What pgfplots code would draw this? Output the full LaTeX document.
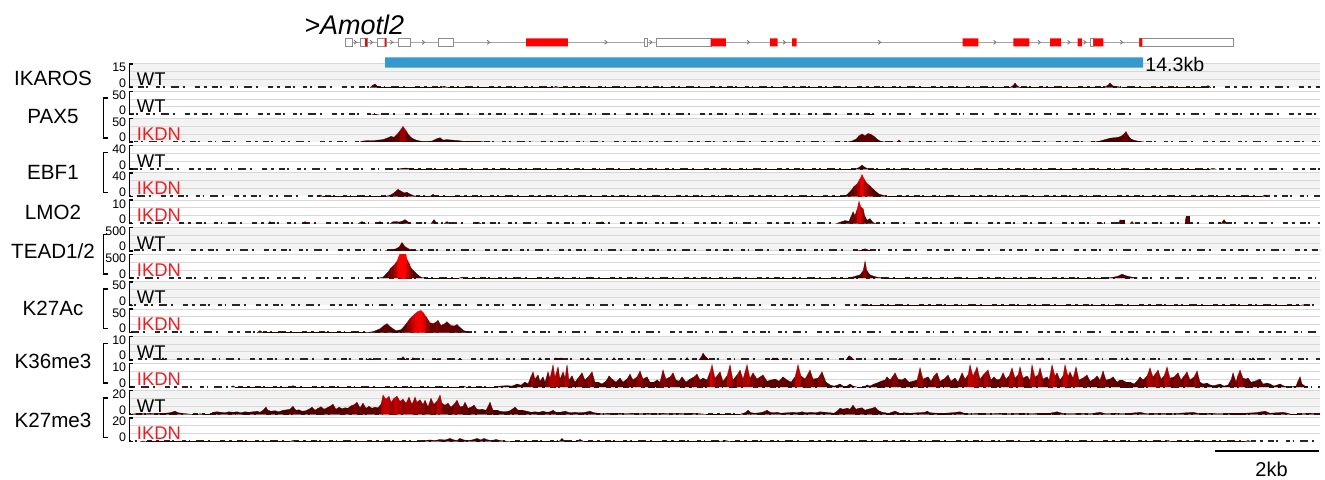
\documentclass[border=0pt]{standalone}
\usepackage{pgfplots}
\usepackage{pgfplotstable}
\pgfplotsset{compat=1.18}
\usepackage{fontspec}
\setmainfont{Liberation Sans}
\definecolor{bgg}{RGB}{243,243,243}
\definecolor{gridc}{RGB}{216,216,216}
\definecolor{ikred}{RGB}{235,30,35}
\definecolor{blueb}{RGB}{54,153,206}
\definecolor{exred}{RGB}{255,0,0}
\newcommand\tickfont{\fontsize{6.2}{7}\selectfont}
\newcommand\lblfont{\fontsize{9.2}{10}\selectfont}
\newcommand\grpfont{\fontsize{10.3}{12}\selectfont}
\pgfdeclareplotmark{chev}{\pgfpathmoveto{\pgfqpoint{-0.7pt}{1pt}}\pgfpathlineto{\pgfqpoint{0.5pt}{0pt}}\pgfpathlineto{\pgfqpoint{-0.7pt}{-1pt}}\pgfusepathqstroke}
\pgfplotsset{
  trk/.style={scale only axis, width=595pt, height=11.75pt, anchor=south west,
    xmin=130, xmax=1320, ymin=0,
    axis line style={draw=none}, xtick=\empty, ytick=\empty,
    colormap={trk}{rgb255(0cm)=(45,0,0); rgb255(8cm)=(105,0,0); rgb255(13cm)=(175,0,0); rgb255(17cm)=(235,0,0); rgb255(20cm)=(255,0,0)},
    point meta min=0},
  sig/.style={surf, shader=faceted, faceted color=mapped color, line width=0.1pt, mesh/rows=2, point meta=explicit},
  basedash/.style={draw=black!85, line width=1.4pt, dash pattern=on 1.5pt off 2.5pt on 3pt off 1pt on 1pt off 4pt on 2pt off 1.5pt on 0.8pt off 3pt on 4pt off 2pt on 1pt off 5pt on 2.5pt off 2pt}
}
% ---------------- data: x = position (px along the locus), y = signal ----------------
\pgfplotstableread[row sep=\\]{x y\\ 370 0\\ 373 1.5\\ 375 2.2\\ 377 1\\ 380 0\\ 440 0\\ 444 0.8\\ 448 0\\ 553 0\\ 556 0.7\\ 559 0\\ 1010 0\\ 1013 1.2\\ 1015 2.8\\ 1017 1.2\\ 1020 0\\ 1040 0\\ 1042 0.8\\ 1044 0\\ 1058 0\\ 1060 0.8\\ 1062 0\\ 1104 0\\ 1108 1.5\\ 1110 2.8\\ 1113 1\\ 1118 0.5\\ 1122 0\\ 1205 0\\ 1208 1.2\\ 1211 0\\}\tIK
\pgfplotstableread[row sep=\\]{x y\\ 372 0\\ 375 1.5\\ 378 0\\ 868 0\\ 871 1.5\\ 874 0\\}\tPW
\pgfplotstableread[row sep=\\]{x y\\ 360 0\\ 363 2\\ 368 3\\ 373 2.5\\ 378 4\\ 383 5\\ 388 9\\ 391 12\\ 394 10\\ 397 16\\ 400 24\\ 403 33\\ 406 24\\ 409 14\\ 412 8\\ 416 4\\ 420 2\\ 425 1\\ 432 2\\ 437 7\\ 440 9\\ 443 4\\ 447 5\\ 452 4\\ 458 3\\ 465 1\\ 480 1\\ 484 0\\ 848 0\\ 852 2\\ 856 6\\ 859 13\\ 862 17\\ 865 13\\ 868 18\\ 871 16\\ 874 12\\ 877 6\\ 880 2\\ 884 0\\ 897 0\\ 899 4\\ 901 0\\ 1095 0\\ 1100 2\\ 1105 5\\ 1110 8\\ 1114 9\\ 1118 10\\ 1121 12\\ 1124 17\\ 1126 22\\ 1128 14\\ 1131 6\\ 1135 3\\ 1140 1\\ 1144 0\\}\tPK
\pgfplotstableread[row sep=\\]{x y\\ 398 0\\ 402 1.5\\ 406 2\\ 410 1\\ 414 0\\ 855 0\\ 859 3\\ 862 7\\ 865 3\\ 869 0\\ 1210 0\\ 1213 1.5\\ 1216 0\\}\tEW
\pgfplotstableread[row sep=\\]{x y\\ 317 0\\ 320 2.5\\ 323 0\\ 385 0\\ 390 2\\ 394 6\\ 398 12\\ 401 9\\ 404 6\\ 407 7\\ 410 4\\ 414 1\\ 418 0\\ 430 0\\ 433 3.5\\ 436 0\\ 843 0\\ 847 3\\ 851 10\\ 854 17\\ 857 21\\ 860 30\\ 862 37\\ 864 30\\ 867 22\\ 870 18\\ 873 13\\ 876 8\\ 879 4\\ 883 2\\ 888 0\\ 1262 0\\ 1265 2.5\\ 1268 0\\}\tEK
\pgfplotstableread[row sep=\\]{x y\\ 148 0\\ 150 0.8\\ 152 0\\ 268 0\\ 270 0.9\\ 272 0\\ 303 0\\ 305 0.9\\ 307 0\\ 358 0\\ 362 0.9\\ 366 0\\ 377 0\\ 380 0.9\\ 383 0\\ 390 0\\ 393 0.8\\ 396 0.9\\ 399 0.7\\ 402 1\\ 405 1.7\\ 408 0.8\\ 411 0\\ 431 0\\ 434 1.7\\ 437 0\\ 444 0\\ 447 0.9\\ 450 0\\ 475 0\\ 478 0.7\\ 481 0\\ 599 0\\ 602 0.8\\ 605 0\\ 836 0\\ 840 0.6\\ 845 1.3\\ 849 1\\ 851 3\\ 853 5\\ 855 3.5\\ 857 6\\ 859 9.4\\ 861 7\\ 863 6.4\\ 865 3\\ 867 1.5\\ 870 2.1\\ 873 0.5\\ 876 0\\ 1099 0\\ 1101 0.5\\ 1103 0\\ 1119 0\\ 1120 1.7\\ 1124 1.7\\ 1125 0\\ 1130 0\\ 1132 0.9\\ 1134 0\\ 1185 0\\ 1186 3\\ 1189 3\\ 1190 0\\ 1221 0\\ 1224 1.7\\ 1227 0\\}\tLM
\pgfplotstableread[row sep=\\]{x y\\ 385 0\\ 390 10\\ 395 35\\ 399 80\\ 402 177\\ 405 90\\ 409 40\\ 413 10\\ 418 0\\ 858 0\\ 862 20\\ 865 45\\ 868 20\\ 872 0\\}\tTW
\pgfplotstableread[row sep=\\]{x y\\ 378 0\\ 383 20\\ 388 128\\ 391 220\\ 394 277\\ 397 360\\ 399 470\\ 401 600\\ 405 600\\ 407 400\\ 409 320\\ 411 215\\ 413 170\\ 415 128\\ 418 64\\ 421 20\\ 425 0\\ 459 0\\ 462 20\\ 465 0\\ 848 0\\ 852 20\\ 856 45\\ 860 70\\ 863 150\\ 865 355\\ 867 150\\ 870 70\\ 875 30\\ 880 10\\ 884 0\\ 1105 0\\ 1112 15\\ 1118 40\\ 1122 85\\ 1126 50\\ 1132 20\\ 1138 0\\}\tTK
\pgfplotstableread[row sep=\\]{x y\\ 860 0\\ 863 2\\ 866 0\\ 1300 0\\ 1305 1.5\\ 1310 0\\}\tAW
\pgfplotstableread[row sep=\\]{x y\\ 257 0\\ 260 4\\ 263 0\\ 366 0\\ 373 2\\ 380 8\\ 384 15\\ 387 19\\ 391 11\\ 396 4\\ 401 6\\ 404 13\\ 407 21\\ 410 30\\ 412 34\\ 415 40\\ 418 45\\ 421 47\\ 423 43\\ 426 34\\ 430 21\\ 433 19\\ 436 22\\ 438 26\\ 441 15\\ 444 18\\ 447 23\\ 451 15\\ 454 14\\ 457 17\\ 461 9\\ 464 4\\ 467 2\\ 470 0\\}\tAK
\pgfplotstableread[row sep=\\]{x y\\ 161 0\\ 163 0.9\\ 165 0\\ 366 0\\ 370 0.6\\ 374 0\\ 400 0\\ 403 1.3\\ 406 0\\ 411 0\\ 413 0.9\\ 415 0\\ 436 0\\ 438 0.6\\ 440 0\\ 458 0\\ 460 0.6\\ 462 0\\ 538 0\\ 540 0.9\\ 542 0\\ 554 0\\ 556 0.9\\ 561 0.9\\ 563 0\\ 586 0\\ 588 0.9\\ 590 0\\ 612 0\\ 614 0.9\\ 616 0\\ 685 0\\ 687 0.9\\ 689 0\\ 699 0\\ 701 1\\ 703 2.8\\ 706 1.2\\ 709 0\\ 771 0\\ 773 0.9\\ 777 0.9\\ 779 0\\ 846 0\\ 849 1.7\\ 851 1.2\\ 854 0\\ 898 0\\ 900 0.6\\ 902 0\\ 1040 0\\ 1042 0.9\\ 1044 0\\ 1125 0\\ 1127 0.9\\ 1129 0\\ 1251 0\\ 1253 0.9\\ 1255 0\\}\tSW
\pgfplotstableread[row sep=\\]{x y\\ 231 0\\ 233 0.5\\ 235 0\\ 291 0\\ 293 0.6\\ 295 0\\ 460 0\\ 463 0.4\\ 466 0\\ 495 0\\ 500 0.4\\ 507 0.6\\ 512 0.4\\ 517 1.3\\ 521 0.8\\ 525 2.1\\ 528 1.3\\ 531 4.5\\ 533 6.4\\ 535 3.4\\ 538 5.1\\ 540 2.5\\ 543 4.3\\ 545 2.1\\ 548 6.4\\ 550 3.8\\ 553 9.4\\ 555 4.3\\ 558 8.5\\ 560 3.4\\ 563 6.4\\ 565 4\\ 567 9.4\\ 569 3\\ 572 4.7\\ 575 2.1\\ 578 3.8\\ 582 6\\ 585 3\\ 588 4.3\\ 592 6.4\\ 595 2.1\\ 598 2.1\\ 602 1.3\\ 606 2.5\\ 609 4.7\\ 612 3.4\\ 616 2.1\\ 620 3.8\\ 623 2.1\\ 627 3.4\\ 630 5.5\\ 633 3\\ 637 4.3\\ 640 6.8\\ 643 3.4\\ 647 4.3\\ 650 2.1\\ 654 2.1\\ 657 3\\ 660 2.1\\ 663 7.2\\ 666 3.4\\ 670 4.3\\ 673 6\\ 676 3\\ 679 2.5\\ 682 4.3\\ 686 2.1\\ 690 3.4\\ 694 4.3\\ 697 5.5\\ 700 3\\ 703 3.8\\ 707 3\\ 710 6.4\\ 712 9.4\\ 715 3.8\\ 720 6.4\\ 723 2.5\\ 727 4.7\\ 730 9.4\\ 733 3\\ 737 5.1\\ 740 7.2\\ 743 3.4\\ 747 9.4\\ 750 3.8\\ 753 6\\ 757 3.4\\ 760 4.3\\ 763 5.1\\ 767 2.5\\ 771 3\\ 775 3.4\\ 779 2.5\\ 783 4.3\\ 787 3\\ 791 2.1\\ 795 4.3\\ 798 9.4\\ 801 4.7\\ 805 3.4\\ 810 7.2\\ 813 3.4\\ 818 3.8\\ 822 6.4\\ 826 2.1\\ 830 0.9\\ 834 0.4\\ 838 0.9\\ 840 1.3\\ 843 0.4\\ 847 0.4\\ 850 1.3\\ 853 0.4\\ 857 0\\ 864 0\\ 867 0.9\\ 870 0.4\\ 874 1.3\\ 877 1.7\\ 881 2.5\\ 885 3\\ 887 4.3\\ 890 3\\ 893 4.7\\ 895 6\\ 898 3.4\\ 902 3\\ 905 3.8\\ 909 2.1\\ 913 2.5\\ 917 3\\ 920 8.1\\ 923 3.4\\ 928 4.3\\ 931 2.5\\ 934 4.7\\ 937 6\\ 940 2.5\\ 944 3.4\\ 948 5.1\\ 951 2.5\\ 955 3.8\\ 958 2.1\\ 962 6\\ 965 3.4\\ 968 5.1\\ 970 9.4\\ 973 4.7\\ 977 8.5\\ 980 3.4\\ 984 5.5\\ 988 7.2\\ 991 3\\ 994 4.3\\ 997 3\\ 1000 3.4\\ 1003 6\\ 1006 3.4\\ 1009 4.7\\ 1012 8.1\\ 1015 3.8\\ 1018 5.1\\ 1020 8.5\\ 1023 3.8\\ 1027 4.7\\ 1030 3\\ 1032 9.4\\ 1035 4.3\\ 1038 5.1\\ 1040 8.1\\ 1043 3.4\\ 1047 4.3\\ 1049 3\\ 1052 9.4\\ 1055 4.7\\ 1057 6\\ 1060 3\\ 1063 4.7\\ 1065 9.4\\ 1068 4.7\\ 1070 6.4\\ 1073 3.8\\ 1076 8.5\\ 1079 3\\ 1083 3.8\\ 1087 5.1\\ 1090 2.5\\ 1094 3.4\\ 1097 4.7\\ 1100 3\\ 1103 6.8\\ 1106 3\\ 1110 3.4\\ 1113 4.3\\ 1117 2.1\\ 1120 3\\ 1122 3\\ 1126 2.1\\ 1130 2.1\\ 1134 1.3\\ 1137 2.5\\ 1140 4.3\\ 1143 3\\ 1147 4.7\\ 1150 8.1\\ 1153 4.3\\ 1156 6\\ 1158 7.2\\ 1161 3.4\\ 1164 4.7\\ 1167 8.5\\ 1170 3.8\\ 1174 4.3\\ 1178 6\\ 1181 3\\ 1184 4.7\\ 1187 6.4\\ 1190 3\\ 1194 4.3\\ 1197 6.8\\ 1200 2.1\\ 1203 1.3\\ 1207 1.7\\ 1210 0.9\\ 1214 0.6\\ 1220 1.3\\ 1224 0.4\\ 1228 0.9\\ 1231 3\\ 1233 6\\ 1236 2.1\\ 1238 5.1\\ 1240 7.2\\ 1243 3.8\\ 1246 3.4\\ 1248 3.8\\ 1251 2.1\\ 1255 2.5\\ 1260 3.4\\ 1263 1.3\\ 1267 1.7\\ 1270 1.3\\ 1274 0.4\\ 1280 1.3\\ 1284 0.4\\ 1290 0\\ 1296 0.4\\ 1298 2.5\\ 1300 4.3\\ 1302 1.3\\ 1305 0.4\\ 1308 0\\}\tSK
\pgfplotstableread[row sep=\\]{x y\\ 130 0\\ 135 0.4\\ 140 0.9\\ 145 0.4\\ 150 0.9\\ 155 0.4\\ 160 0.9\\ 165 0.9\\ 170 1.3\\ 175 2.6\\ 178 1.3\\ 182 0.9\\ 186 0.4\\ 192 0\\ 198 0\\ 200 0.4\\ 205 0\\ 210 0\\ 213 1.7\\ 217 2.1\\ 221 1.7\\ 225 1.3\\ 229 2.1\\ 233 1.7\\ 237 2.1\\ 241 1.3\\ 245 2.1\\ 249 1.7\\ 253 2.1\\ 257 2.6\\ 260 1.7\\ 263 3.4\\ 266 6\\ 268 3.4\\ 271 2.6\\ 275 3\\ 279 2.1\\ 283 3.4\\ 287 3.8\\ 290 4.3\\ 293 6.8\\ 296 3.4\\ 299 3.8\\ 302 2.6\\ 306 3\\ 309 4.3\\ 312 6\\ 315 3.4\\ 318 5.1\\ 321 6.4\\ 324 4.3\\ 327 5.5\\ 330 6.8\\ 333 8.5\\ 336 4.3\\ 339 6\\ 342 4.7\\ 345 5.5\\ 348 5.1\\ 351 7.2\\ 354 8.1\\ 357 10.2\\ 360 5.5\\ 363 9.4\\ 366 5.1\\ 369 6.8\\ 372 5.1\\ 375 6\\ 378 5.5\\ 381 8.5\\ 383 16.2\\ 386 12.8\\ 389 15.3\\ 391 10.2\\ 394 13.6\\ 397 15.3\\ 400 11.1\\ 403 12.8\\ 406 9.4\\ 409 14.5\\ 412 8.5\\ 415 14.5\\ 417 10.2\\ 420 12.3\\ 423 8.5\\ 425 11.9\\ 428 6.4\\ 431 13.6\\ 434 8.5\\ 437 11.1\\ 440 16.2\\ 442 9.4\\ 445 7.7\\ 448 9.4\\ 451 6\\ 454 8.5\\ 457 11.9\\ 460 6.4\\ 463 6.8\\ 465 10.2\\ 468 5.1\\ 471 6\\ 474 7.7\\ 477 4.3\\ 480 3.8\\ 482 4.3\\ 486 3.4\\ 490 10.2\\ 493 3.4\\ 497 3.4\\ 500 2.6\\ 505 2.1\\ 510 3\\ 515 6\\ 518 3.4\\ 522 3.4\\ 527 2.6\\ 531 1.7\\ 535 2.1\\ 539 1.7\\ 543 2.6\\ 547 1.7\\ 550 2.1\\ 553 3.4\\ 556 1.7\\ 560 1.7\\ 565 2.6\\ 570 1.3\\ 575 1.7\\ 580 1.3\\ 585 1.7\\ 590 2.6\\ 594 1.3\\ 598 0.9\\ 603 0.4\\ 608 0.9\\ 613 0.4\\ 620 0.9\\ 626 0.4\\ 632 0.9\\ 640 0.4\\ 648 0.9\\ 655 0.4\\ 663 0.9\\ 670 0.4\\ 678 0.9\\ 685 0.4\\ 692 0.9\\ 700 0.4\\ 706 0\\ 740 0\\ 745 1.3\\ 748 3.4\\ 751 1.3\\ 755 0.9\\ 760 1.3\\ 764 2.1\\ 767 3.4\\ 770 1.7\\ 774 1.3\\ 777 1.7\\ 781 0.9\\ 787 1.3\\ 793 1.7\\ 797 1.3\\ 802 2.1\\ 806 1.3\\ 811 1.7\\ 816 1.3\\ 820 2.1\\ 825 1.7\\ 830 1.3\\ 834 0.9\\ 837 2.6\\ 840 5.1\\ 843 4.3\\ 847 5.1\\ 850 4.3\\ 853 7.7\\ 856 4.3\\ 859 5.1\\ 862 5.5\\ 865 3.4\\ 868 4.3\\ 872 5.1\\ 875 6\\ 878 3.4\\ 882 1.7\\ 886 1.3\\ 890 1.3\\ 895 2.6\\ 899 1.3\\ 903 1.3\\ 910 0.9\\ 918 1.3\\ 925 1.7\\ 927 2.6\\ 930 1.3\\ 937 0.9\\ 945 0.9\\ 952 1.3\\ 960 2.1\\ 964 0.9\\ 970 0.4\\ 980 0.9\\ 990 0.4\\ 1000 0.9\\ 1010 0.4\\ 1020 0.9\\ 1030 0.4\\ 1040 0.9\\ 1050 0.9\\ 1057 2.1\\ 1062 0.9\\ 1070 0.4\\ 1080 0.9\\ 1090 0.4\\ 1100 1.7\\ 1106 0.4\\ 1115 0.9\\ 1125 0.4\\ 1140 1.7\\ 1147 0.4\\ 1160 0.9\\ 1170 0.4\\ 1180 0.9\\ 1193 1.7\\ 1200 0.4\\ 1210 0.9\\ 1220 0.4\\ 1230 0.9\\ 1245 0.9\\ 1255 1.3\\ 1265 2.6\\ 1270 0.9\\ 1283 1.7\\ 1290 0.4\\ 1300 0.4\\ 1310 0.9\\ 1320 0.4\\}\tMW
\pgfplotstableread[row sep=\\]{x y\\ 140 0\\ 143 0.4\\ 146 0\\ 290 0\\ 293 0.9\\ 296 0\\ 420 0\\ 425 0.9\\ 430 1.3\\ 435 0.9\\ 440 1.7\\ 445 1.3\\ 450 2.6\\ 454 1.3\\ 457 0.9\\ 460 2.6\\ 464 1.3\\ 468 0.9\\ 472 1.3\\ 477 2.6\\ 481 1.3\\ 484 2.6\\ 488 1.3\\ 492 0.9\\ 496 1.7\\ 500 0.9\\ 505 0.4\\ 510 0\\ 559 0\\ 562 2.6\\ 565 0\\ 576 0\\ 580 1.7\\ 584 0\\ 720 0\\ 725 0.9\\ 730 0\\ 1165 0\\ 1168 0.9\\ 1171 0\\ 1245 0\\ 1248 0.9\\ 1251 0\\}\tMK
% doubled tables (baseline row + top row for the filled, height-coloured patches)
\newcommand{\prep}[3]{\pgfplotstablegetrowsof{#1}\xdef#3{\pgfplotsretval}\pgfplotstablevertcat{#2}{#1}\pgfplotstablevertcat{#2}{#1}}
\prep{\tIK}{\sIK}{\nIK}\prep{\tPW}{\sPW}{\nPW}\prep{\tPK}{\sPK}{\nPK}\prep{\tEW}{\sEW}{\nEW}
\prep{\tEK}{\sEK}{\nEK}\prep{\tLM}{\sLM}{\nLM}\prep{\tTW}{\sTW}{\nTW}\prep{\tTK}{\sTK}{\nTK}
\prep{\tAW}{\sAW}{\nAW}\prep{\tAK}{\sAK}{\nAK}\prep{\tSW}{\sSW}{\nSW}\prep{\tSK}{\sSK}{\nSK}
\prep{\tMW}{\sMW}{\nMW}\prep{\tMK}{\sMK}{\nMK}
\newcommand{\trk}[6]{%
\begin{axis}[trk, at={(65pt,#1pt)}, ymax=#2, point meta max=#2, axis background/.style={fill=#3}]
\draw[gridc, line width=0.5pt] (rel axis cs:0,1) -- (rel axis cs:1,1);
\draw[gridc, line width=0.5pt] (rel axis cs:0,0.6667) -- (rel axis cs:1,0.6667);
\draw[gridc, line width=0.5pt] (rel axis cs:0,0.3333) -- (rel axis cs:1,0.3333);
\addplot[basedash, dash phase=#6] coordinates {(130,0) (1320,0)};
\addplot[sig] table[x=x, y expr={(\coordindex>#5-0.5)*\thisrow{y}}, meta=y] {#4};
\end{axis}}
\newcommand{\deco}[7]{%
\addplot[black, line width=0.7pt] coordinates {(132.5,#1) (129.5,#1) (129.5,#2) (132.5,#2)};
\node[anchor=base east, inner sep=0pt, font=\tickfont] at (axis cs:126.5,#3) {#5};
\node[anchor=base east, inner sep=0pt, font=\tickfont] at (axis cs:126.5,#2) {0};
\node[anchor=base west, inner sep=0pt, font=\lblfont, text=#7] at (axis cs:136.5,#4) {#6};}
\newcommand{\grp}[2]{\addplot[black, line width=0.75pt] coordinates {(108,#1) (103.5,#1) (103.5,#2) (108,#2)};}
\newcommand{\wex}[2]{\addplot[draw=black!45, fill=white, line width=0.4pt] coordinates {(#1,38.3) (#2,38.3) (#2,46.3) (#1,46.3) (#1,38.3)};}
\newcommand{\rex}[2]{\addplot[draw=none, fill=exred] coordinates {(#1,38.3) (#2,38.3) (#2,46.3) (#1,46.3) (#1,38.3)};}
\begin{document}
\begin{tikzpicture}
\useasboundingbox (0,0) rectangle (662.5pt,240pt);
\trk{196.25}{15}{bgg}{\sIK}{\nIK}{0pt}
\trk{182.635}{50}{white}{\sPW}{\nPW}{5pt}
\trk{169.02}{50}{bgg}{\sPK}{\nPK}{11pt}
\trk{155.405}{40}{white}{\sEW}{\nEW}{3pt}
\trk{141.79}{40}{bgg}{\sEK}{\nEK}{17pt}
\trk{128.175}{10}{white}{\sLM}{\nLM}{8pt}
\trk{114.56}{500}{bgg}{\sTW}{\nTW}{2pt}
\trk{100.945}{500}{white}{\sTK}{\nTK}{13pt}
\trk{87.33}{50}{bgg}{\sAW}{\nAW}{6pt}
\trk{73.715}{50}{white}{\sAK}{\nAK}{20pt}
\trk{60.1}{10}{bgg}{\sSW}{\nSW}{9pt}
\trk{46.485}{10}{white}{\sSK}{\nSK}{15pt}
\trk{32.87}{20}{bgg}{\sMW}{\nMW}{1pt}
\trk{19.255}{20}{white}{\sMK}{\nMK}{24pt}
\begin{axis}[at={(0pt,0pt)}, anchor=south west, scale only axis, width=662.5pt, height=240pt,
  xmin=0, xmax=1325, ymin=0, ymax=480, y dir=reverse, hide axis, clip=false]
% gene model
\addplot[black!35, line width=0.5pt] coordinates {(345,42.3) (1233,42.3)};
\addplot[only marks, mark=chev, draw=black!55, mark options={line width=0.4pt}] coordinates {(355.5,42.3) (371.6,42.3) (391.8,42.3) (423.6,42.3) (488.6,42.3) (606.1,42.3) (650.9,42.3) (748.5,42.3) (784.4,42.3) (879.7,42.3) (995,42.3) (1039.3,42.3) (1069,42.3) (1085,42.3) (1121.7,42.3)};
\wex{345.2}{352.4}
\wex{360.5}{367}\rex{365}{367}
\wex{377.7}{386.1}\rex{384.6}{385.8}
\wex{398.3}{410.2}
\wex{438.5}{453.4}
\rex{526.2}{567.9}
\wex{644.4}{647.5}
\wex{655.9}{711}\rex{710.6}{725.9}
\rex{769.9}{777.6}
\rex{792.1}{796.7}
\rex{962.7}{978.3}
\rex{1013.3}{1029.3}
\rex{1050}{1061}
\rex{1077.7}{1082}
\wex{1090.7}{1093.5}\rex{1093.3}{1103.3}
\wex{1139.3}{1233.3}\rex{1139.3}{1142.3}
\node[anchor=west, inner sep=0pt, font=\fontsize{13.5}{15}\selectfont\itshape] at (axis cs:304,25) {>Amotl2};
% region bar
\addplot[fill=blueb, draw=none] coordinates {(385,57.3) (1143,57.3) (1143,67.7) (385,67.7) (385,57.3)};
\node[anchor=west, inner sep=0pt, font=\fontsize{9.8}{11}\selectfont] at (axis cs:1145,64.5) {14.3kb};
% track decorations
\deco{64}{87.5}{72}{85.8}{15}{WT}{black}
\deco{91.23}{114.73}{99.23}{113}{50}{WT}{black}
\deco{118.46}{141.96}{126.46}{140.2}{50}{IKDN}{ikred}
\deco{145.69}{169.19}{153.69}{167.5}{40}{WT}{black}
\deco{172.92}{196.42}{180.92}{194.7}{40}{IKDN}{ikred}
\deco{200.15}{223.65}{208.15}{221.9}{10}{IKDN}{ikred}
\deco{227.38}{250.88}{235.38}{249.2}{500}{WT}{black}
\deco{254.61}{278.11}{262.61}{276.4}{500}{IKDN}{ikred}
\deco{281.84}{305.34}{289.84}{303.6}{50}{WT}{black}
\deco{309.07}{332.57}{317.07}{330.9}{50}{IKDN}{ikred}
\deco{336.3}{359.8}{344.3}{358.1}{10}{WT}{black}
\deco{363.53}{387.03}{371.53}{385.3}{10}{IKDN}{ikred}
\deco{390.76}{414.26}{398.76}{412.6}{20}{WT}{black}
\deco{417.99}{441.49}{425.99}{439.8}{20}{IKDN}{ikred}
% group brackets and names
\grp{98.2}{138}\grp{152.7}{192.4}\grp{234.4}{274.1}\grp{288.8}{328.6}\grp{343.3}{383}\grp{397.8}{437.5}
\node[font=\grpfont] at (axis cs:53,78.5) {IKAROS};
\node[font=\grpfont] at (axis cs:53,117) {PAX5};
\node[font=\grpfont] at (axis cs:53,172.5) {EBF1};
\node[font=\grpfont] at (axis cs:53,212) {LMO2};
\node[font=\grpfont] at (axis cs:53,251) {TEAD1/2};
\node[font=\grpfont] at (axis cs:53,308) {K27Ac};
\node[font=\grpfont] at (axis cs:53,361) {K36me3};
\node[font=\grpfont] at (axis cs:53,420) {K27me3};
% scale bar
\addplot[black, line width=1.1pt] coordinates {(1215,451) (1319,451)};
\node[anchor=base, inner sep=0pt, font=\fontsize{10}{11}\selectfont] at (axis cs:1271.5,476) {2kb};
\end{axis}
\end{tikzpicture}
\end{document}
